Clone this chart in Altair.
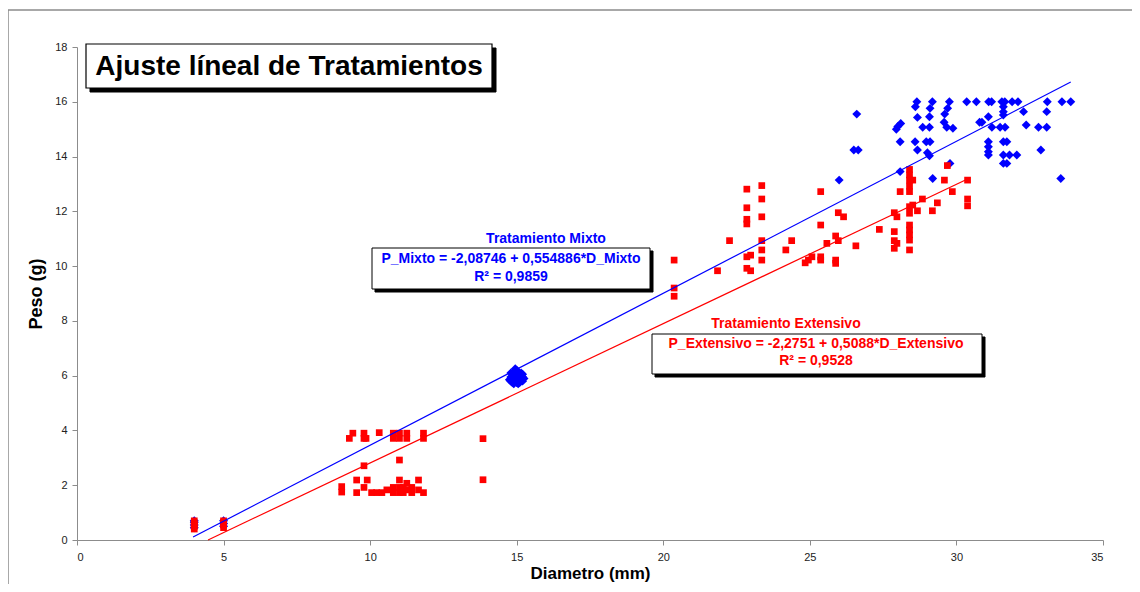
import altair as alt
import pandas as pd

FONT = "Liberation Sans"

# ---- Tratamiento Mixto (blue diamonds) ----
mixto_x = [4, 4, 4, 4, 5, 5, 5,
           14.75, 14.8, 14.85, 14.9, 14.95, 15.0, 15.05, 15.1, 15.15, 15.2, 15.25,
           14.8, 14.9, 15.0, 15.1, 15.2, 14.85, 14.95, 15.05, 15.15, 14.9, 15.0, 15.1,
           14.8, 15.2, 14.95, 15.05, 15.0,
           28.65, 29.18, 29.76, 30.35, 30.68, 31.1, 31.2, 31.55, 31.65, 31.9, 32.1, 33.1, 33.6, 33.9,
           26.6, 28.6, 29.1, 29.7, 29.6, 28.67, 29.08,
           28.1, 28.0, 27.95,
           28.85, 29.08, 29.58, 29.67, 29.88, 30.79,
           28.08, 28.59, 28.97, 29.1, 28.67, 29.01, 29.08,
           26.5, 26.65,
           28.08, 29.78, 29.19, 26.0,
           31.6, 31.09, 31.6, 31.6, 32.29, 33.08,
           30.87, 31.21, 31.49, 31.66, 32.38, 32.8, 33.08,
           31.09, 31.09, 31.09, 31.09,
           31.6, 31.72, 32.88,
           31.6, 31.81, 32.06, 31.6, 31.72, 33.56]
mixto_y = [0.45, 0.55, 0.65, 0.7, 0.5, 0.6, 0.7,
           5.85, 5.95, 5.75, 6.05, 5.8, 5.9, 6.0, 5.85, 5.95, 6.05, 5.9,
           6.1, 5.7, 6.2, 5.75, 5.8, 5.85, 6.15, 5.7, 6.1, 5.9, 6.0, 6.05,
           5.8, 5.95, 6.25, 5.8, 5.75,
           16.0, 16.0, 16.0, 16.0, 16.0, 16.0, 16.0, 16.0, 16.0, 16.0, 16.0, 16.0, 16.0, 16.0,
           15.55, 15.82, 15.76, 15.76, 15.55, 15.43, 15.45,
           15.21, 15.1, 15.0,
           15.07, 15.07, 15.25, 15.07, 15.03, 15.25,
           14.54, 14.54, 14.54, 14.54, 14.24, 14.14, 14.03,
           14.24, 14.24,
           13.45, 13.75, 13.2, 13.14,
           15.82, 15.45, 15.52, 15.64, 15.64, 15.64,
           15.25, 15.07, 15.07, 15.07, 15.15, 15.07, 15.07,
           14.54, 14.36, 14.18, 14.06,
           14.54, 14.54, 14.24,
           14.06, 14.06, 14.06, 13.75, 13.75, 13.2]

# ---- Tratamiento Extensivo (red squares) ----
ext_x = [4, 4, 4, 4, 4, 5, 5, 5, 5,
         9.03, 9.03, 9.29, 9.41, 9.54, 9.54, 9.79, 9.79, 9.86, 9.79, 9.79, 9.9,
         10.05, 10.22, 10.4, 10.57, 10.31,
         10.79, 10.79, 11.0, 11.0, 11.25, 11.25, 11.0,
         10.79, 10.79, 11.0, 11.0, 11.0, 11.13, 11.13, 11.25, 11.25, 11.42, 11.42,
         11.65, 11.65, 11.82, 11.82, 11.82,
         13.85, 13.85,
         20.37, 20.37, 20.37,
         22.85, 23.36, 23.36, 22.85, 22.85, 22.85, 23.36, 22.26, 23.36,
         22.85, 22.98, 23.36, 23.36, 22.85, 22.98, 21.85, 24.38, 24.18,
         25.37, 25.37, 25.97, 26.15, 25.88, 25.97, 25.58, 26.57, 25.37, 25.37,
         25.07, 24.95, 24.84, 25.88, 25.88, 27.37, 27.88, 27.97, 27.88, 27.88, 27.97, 27.88, 28.08,
         28.4, 28.4, 28.4, 28.4, 28.4, 28.4, 28.4, 28.4, 28.4, 28.4, 28.4, 28.4,
         28.51, 28.51, 28.67, 28.84, 29.18, 29.35, 29.59, 29.69, 29.86, 30.38, 30.38, 30.38]
ext_y = [0.4, 0.5, 0.55, 0.6, 0.7, 0.45, 0.55, 0.65, 0.7,
         1.95, 1.75, 3.71, 3.9, 2.19, 1.73, 3.9, 3.71, 3.71, 2.71, 1.92, 2.19,
         1.73, 1.73, 1.73, 1.83, 3.92,
         3.9, 3.71, 3.9, 3.71, 3.9, 3.71, 2.92,
         1.92, 1.73, 2.19, 1.92, 1.73, 1.92, 1.73, 2.07, 1.83, 1.92, 1.73,
         2.19, 1.83, 3.9, 3.71, 1.73,
         3.7, 2.2,
         10.22, 9.2, 8.9,
         12.81, 12.94, 12.45, 12.13, 11.71, 11.54, 11.8, 10.93, 10.93,
         10.34, 10.4, 10.59, 10.22, 9.92, 9.83, 9.83, 10.93, 10.59,
         12.72, 11.5, 11.95, 11.8, 11.1, 10.93, 10.83, 10.74, 10.34, 10.22,
         10.34, 10.22, 10.12, 10.22, 10.1, 11.34, 11.95, 11.8, 11.26, 10.93, 10.83, 10.65, 12.72,
         13.53, 13.33, 13.14, 12.92, 12.72, 12.17, 11.93, 11.5, 11.32, 11.14, 10.95, 10.59,
         13.14, 12.23, 12.02, 12.45, 12.02, 12.31, 13.14, 13.67, 12.72, 13.14, 12.45, 12.2]

# regression line endpoints (x range of the fitted lines)
mixto_line_x = [3.96, 33.9]
mixto_line_y = [0.11, 16.72]
ext_line_x = [4.47, 30.38]
ext_line_y = [0.0, 13.18]

x_ticks = [0, 5, 10, 15, 20, 25, 30, 35]
y_ticks = [0, 2, 4, 6, 8, 10, 12, 14, 16, 18]

W, H = 1026, 493

xs = alt.Scale(domain=[0, 35], nice=False, zero=False)
ys = alt.Scale(domain=[0, 18], nice=False, zero=False)

xaxis = alt.Axis(values=x_ticks, title="Diametro (mm)", grid=False, tickSize=5,
                 domainColor="#8c8c8c", tickColor="#8c8c8c", labelFont=FONT, labelFontSize=11,
                 labelColor="#222222", labelPadding=6, titleFont=FONT, titleFontSize=17,
                 titleFontWeight="bold", titleColor="#000000", titlePadding=3)
yaxis = alt.Axis(values=y_ticks, title="Peso (g)", grid=False, tickSize=5,
                 domainColor="#8c8c8c", tickColor="#8c8c8c", labelFont=FONT, labelFontSize=11,
                 labelColor="#222222", labelPadding=5, titleFont=FONT, titleFontSize=18,
                 titleFontWeight="bold", titleColor="#000000", titlePadding=9)

df_m = pd.DataFrame({"x": mixto_x, "y": mixto_y})
df_e = pd.DataFrame({"x": ext_x, "y": ext_y})
df_ml = pd.DataFrame({"x": mixto_line_x, "y": mixto_line_y})
df_el = pd.DataFrame({"x": ext_line_x, "y": ext_line_y})

pts_m = alt.Chart(df_m).mark_point(shape="diamond", filled=True, size=80, color="#0000FF",
                                   opacity=1).encode(
    x=alt.X("x:Q", scale=xs, axis=xaxis), y=alt.Y("y:Q", scale=ys, axis=yaxis))
pts_e = alt.Chart(df_e).mark_square(size=45, color="#FF0000", opacity=1).encode(
    x=alt.X("x:Q", scale=xs), y=alt.Y("y:Q", scale=ys))
line_m = alt.Chart(df_ml).mark_line(color="#0000FF", strokeWidth=1.2).encode(
    x=alt.X("x:Q", scale=xs), y=alt.Y("y:Q", scale=ys))
line_e = alt.Chart(df_el).mark_line(color="#FF0000", strokeWidth=1.2).encode(
    x=alt.X("x:Q", scale=xs), y=alt.Y("y:Q", scale=ys))

one = pd.DataFrame({"k": [0]})


def box(x1, y1, x2, y2, fill, stroke, sw=1.0):
    return alt.Chart(one).mark_rect(fill=fill, stroke=stroke, strokeWidth=sw).encode(
        x=alt.value(x1), x2=alt.value(x2), y=alt.value(y1), y2=alt.value(y2))


def label(txt, x, y, size, color, weight="bold"):
    return alt.Chart(pd.DataFrame({"t": [txt]})).mark_text(
        font=FONT, fontSize=size, fontWeight=weight, color=color, align="center",
        baseline="middle").encode(text="t:N", x=alt.value(x), y=alt.value(y))


frame = alt.Chart(one).mark_rect(fill="transparent", stroke="#8c8c8c", strokeWidth=1.5).encode(
    x=alt.value(-69), x2=alt.value(1100), y=alt.value(-37), y2=alt.value(600))

layers = [
    frame,
    pts_m, pts_e, line_m, line_e,
    # title box
    box(13, 1, 419, 45, "#000000", "#000000"),
    box(9, -3, 415, 41, "#FFFFFF", "#000000", 1.2),
    label("Ajuste líneal de Tratamientos", 212, 20, 28, "#000000"),
    # Mixto annotation
    label("Tratamiento Mixto", 469, 192, 14, "#0000FF"),
    box(298, 204, 576, 245, "#000000", "#000000"),
    box(295, 201, 573, 242, "#FFFFFF", "#000000", 1.0),
    label("P_Mixto = -2,08746 + 0,554886*D_Mixto", 434, 212, 14, "#0000FF"),
    label("R² = 0,9859", 434, 230, 14, "#0000FF"),
    # Extensivo annotation
    label("Tratamiento Extensivo", 709, 277, 14, "#FF0000"),
    box(578, 290, 908, 330, "#000000", "#000000"),
    box(575, 287, 905, 327, "#FFFFFF", "#000000", 1.0),
    label("P_Extensivo = -2,2751 + 0,5088*D_Extensivo", 739, 297, 14, "#FF0000"),
    label("R² = 0,9528", 739, 314, 14, "#FF0000"),
]

chart = alt.layer(*layers).properties(
    width=W, height=H,
    autosize=alt.AutoSizeParams(type="none"),
    padding={"left": 69, "top": 39, "right": 29, "bottom": 44},
    background="#FFFFFF",
).configure_view(stroke=None)

chart.save("out.html", embed_options={"renderer": "svg", "actions": False})
